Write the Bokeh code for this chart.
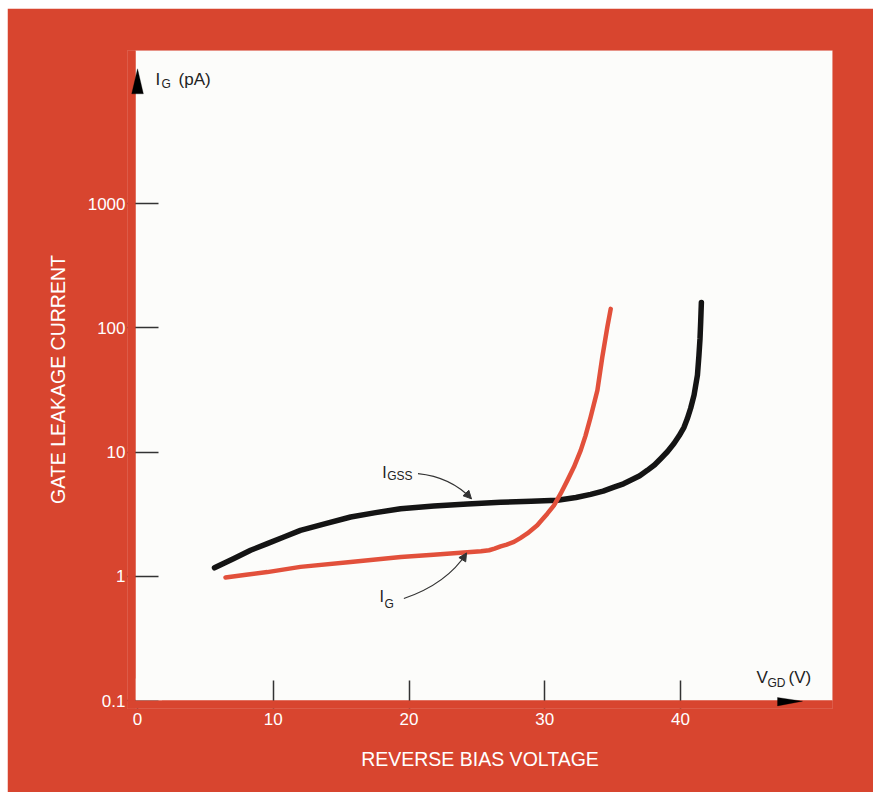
from bokeh.plotting import figure
from bokeh.models import (Range1d, FixedTicker, PolyAnnotation, Arrow, NormalHead,
                          Label, CustomJSTickFormatter, Spacer)
from bokeh.layouts import row, column
from bokeh.embed import file_html
from bokeh.resources import INLINE

# ---- data ----
igss_v = [5.67, 7.1, 8.33, 9.56, 10.78, 12.0, 13.85, 15.7, 17.54, 19.38, 21.83, 24.3,
          26.75, 29.0, 30.93, 32.3, 33.38, 34.3, 35.1, 35.8, 36.33, 37.0, 37.56, 38.1,
          38.54, 39.05, 39.52, 39.9, 40.26, 40.5, 40.75, 41.0, 41.25, 41.36, 41.44,
          41.49, 41.54]
igss_i = [1.17, 1.39, 1.62, 1.83, 2.07, 2.34, 2.65, 3.0, 3.25, 3.5, 3.68, 3.82,
          3.94, 4.02, 4.09, 4.3, 4.56, 4.85, 5.22, 5.55, 5.92, 6.45, 7.12, 7.9,
          8.83, 10.1, 11.7, 13.5, 15.8, 18.5, 22.5, 28.7, 41.6, 60.0, 82.0,
          112.0, 160.0]

ig_v = [6.48, 8.0, 9.56, 12.0, 15.7, 19.4, 21.8, 24.3, 25.3, 25.9, 26.3, 26.75, 27.2,
        27.73, 28.2, 28.72, 29.45, 29.8, 30.19, 30.68, 31.17, 31.67, 32.15, 32.65,
        33.0, 33.38, 33.88, 34.24, 34.61, 34.86]
ig_i = [0.977, 1.03, 1.08, 1.19, 1.30, 1.43, 1.49, 1.56, 1.59, 1.62, 1.67, 1.74, 1.80,
        1.89, 2.03, 2.21, 2.57, 2.85, 3.19, 3.72, 4.62, 5.91, 7.57, 10.3,
        13.5, 19.1, 31.4, 58.0, 101.0, 142.0]

x_ticks = [0, 10, 20, 30, 40]
y_ticks = [0.1, 1, 10, 100, 1000]

# plotting window (white panel) in data units
x_min, x_max = -0.15, 51.2
y_min, y_max = 0.1, 17050

# annotation anchors (data units)
igss_label = (18.03, 6.87)
ig_label = (17.83, 0.69)
igss_arrow = dict(x0=20.66, y0=6.70, cx=23.07, cy=6.30, x1=24.6, y1=4.2)
ig_arrow = dict(x0=19.62, y0=0.662, cx=22.82, cy=0.874, x1=24.24, y1=1.54)
yaxis_title_pos = (1.33, 10000)
xaxis_title_pos = (45.6, 0.154)
yarrow_xs, yarrow_ys = [-0.43, 0.0, 0.43], [7640, 12150, 7640]
xarrow_xs, xarrow_ys = [47.15, 48.99, 47.15], [0.1057, 0.0987, 0.0905]

RED = "#d8452f"
PAPER = "#fcfcfa"
FONT = "Liberation Sans"
INK = "#222222"
PAD_X = 0.59          # 8 px of extra frame room so arrowheads are not clipped
PAD_Y = 10 ** (-8 / 124.3)
fx0, fy0 = x_min - PAD_X, y_min * PAD_Y   # frame start

p = figure(width=866, height=784,
           x_range=Range1d(fx0, x_max),
           y_range=Range1d(fy0, y_max), y_axis_type="log",
           output_backend="svg", toolbar_location=None,
           min_border_left=120, min_border_right=41, min_border_top=42,
           min_border_bottom=84)
p.border_fill_color = RED
p.background_fill_color = RED
p.outline_line_color = None
p.grid.visible = False

for ax in (p.xaxis[0], p.yaxis[0]):
    ax.axis_line_color = None
    ax.major_tick_out = 0
    ax.major_tick_line_color = "#333333"
    ax.major_tick_line_width = 1.5
    ax.minor_tick_line_color = None
    ax.major_label_text_color = "white"
    ax.major_label_text_font = FONT
    ax.major_label_text_font_size = "17px"
    ax.axis_label_text_color = "white"
    ax.axis_label_text_font = FONT
    ax.axis_label_text_font_style = "normal"
    ax.axis_label_text_font_size = "19.5px"

p.xaxis.major_tick_in = 28
p.yaxis.major_tick_in = 31
p.xaxis.major_label_standoff = 4
p.yaxis.major_label_standoff = 2
p.xaxis.axis_label_standoff = 20
p.yaxis.axis_label_standoff = 16

p.xaxis.ticker = FixedTicker(ticks=x_ticks)
p.yaxis.ticker = FixedTicker(ticks=y_ticks)
p.yaxis.formatter = CustomJSTickFormatter(code="return String(tick)")
p.xaxis.axis_label = "REVERSE BIAS VOLTAGE"
p.yaxis.axis_label = "GATE LEAKAGE CURRENT"

# white panel underneath everything
p.quad(left=[x_min], right=[x_max], bottom=[y_min], top=[y_max],
       fill_color=PAPER, line_color=None, level="underlay")

# curves
p.line(igss_v, igss_i, line_color="#141414", line_width=5.5, line_cap="round", line_join="round")
p.line(ig_v, ig_i, line_color="#e2503b", line_width=4.5, line_cap="round", line_join="round")

# hide tick marks sitting on the panel corner and in the red strips (above the axes)
p.quad(left=[x_min], right=[1.8], bottom=[y_min], top=[y_min * 10 ** (22 / 124.3)],
       fill_color=PAPER, line_color=None, level="annotation")
p.quad(left=[fx0, fx0], right=[x_min, x_max],
       bottom=[fy0, fy0], top=[y_max, y_min],
       fill_color=RED, line_color=None, level="annotation")

# axis arrowheads
p.add_layout(PolyAnnotation(xs=yarrow_xs, ys=yarrow_ys,
                            fill_color="black", fill_alpha=1, line_color="black"))
p.add_layout(PolyAnnotation(xs=xarrow_xs, ys=xarrow_ys,
                            fill_color="black", fill_alpha=1, line_color="black"))

# curved pointer arrows
for a in (igss_arrow, ig_arrow):
    p.quadratic(x0=[a["x0"]], y0=[a["y0"]], x1=[a["x1"]], y1=[a["y1"]],
                cx=[a["cx"]], cy=[a["cy"]], line_color="#333333", line_width=1.2)
    p.add_layout(Arrow(end=NormalHead(size=8, fill_color="#333333", line_color="#333333",
                                      line_width=1),
                       x_start=a["cx"], y_start=a["cy"], x_end=a["x1"], y_end=a["y1"],
                       line_alpha=0))

def sub_label(pos, main, sub, rest, size_main, size_sub, dx_sub, dy_sub, dx_rest=None):
    x, y = pos
    p.add_layout(Label(x=x, y=y, text=main, text_font=FONT, text_font_size=f"{size_main}px",
                       text_color=INK, text_baseline="middle", text_align="left"))
    p.add_layout(Label(x=x, y=y, x_offset=dx_sub, y_offset=dy_sub, text=sub, text_font=FONT,
                       text_font_size=f"{size_sub}px", text_color=INK,
                       text_baseline="middle", text_align="left"))
    if rest:
        p.add_layout(Label(x=x, y=y, x_offset=dx_rest, text=rest, text_font=FONT,
                           text_font_size=f"{size_main}px", text_color=INK,
                           text_baseline="middle", text_align="left"))

sub_label(yaxis_title_pos, "I", "G", "(pA)", 17, 12, 6, -5, 23)
sub_label(xaxis_title_pos, "V", "GD", "(V)", 17, 12, 11, -6, 32)
sub_label(igss_label, "I", "GSS", None, 16, 12, 5, -4)
sub_label(ig_label, "I", "G", None, 16, 12, 5, -8)

layout = row(Spacer(width=7), column(Spacer(height=8), p))
open("out.html", "w").write(file_html(layout, INLINE))
